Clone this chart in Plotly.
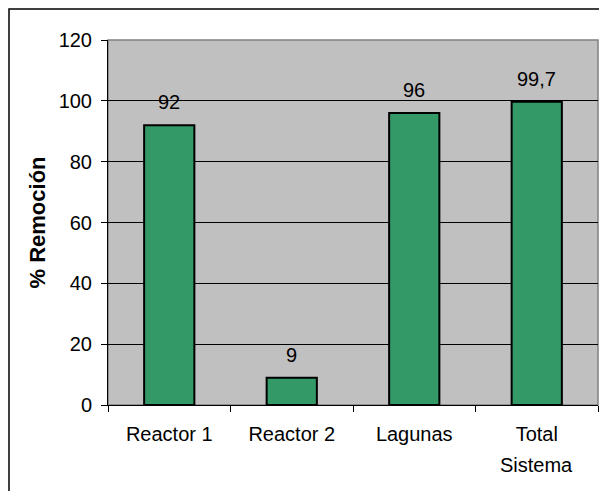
import plotly.graph_objects as go

categorias = ["Reactor 1", "Reactor 2", "Lagunas", "Total"]
remocion = [92, 9, 96, 99.7]
etiquetas = ["92", "9", "96", "99,7"]
y_ticks = [0, 20, 40, 60, 80, 100, 120]

# the page adds an 8px body margin, so the figure is sized to fit inside it
W, H = 599, 483
L, R, T, B = 100, 9, 32, 86
pw, ph = W - L - R, H - T - B

fig = go.Figure()
fig.add_trace(go.Bar(
    x=categorias,
    y=remocion,
    marker=dict(color="#339966", line=dict(color="black", width=2)),
    width=0.41,
))

# value labels above the bars
labels = [
    dict(text=t, x=c, y=v, xref="x", yref="y", showarrow=False,
         yanchor="bottom", yshift=10, font=dict(size=20))
    for c, v, t in zip(categorias, remocion, etiquetas)
]

fig.update_layout(
    width=W, height=H,
    margin=dict(l=L, r=R, t=T, b=B, autoexpand=False),
    paper_bgcolor="white",
    plot_bgcolor="#c0c0c0",
    font=dict(family="Liberation Sans, Arial", size=20, color="black"),
    showlegend=False,
    shapes=[
        # outer chart border (right and bottom edges fall outside the picture)
        dict(type="rect", xref="paper", yref="paper",
             x0=(1 - L) / pw, x1=(W + 10 - L) / pw,
             y0=(H - B - H - 10) / ph, y1=(H - B - 1) / ph,
             line=dict(color="black", width=1.5), layer="below"),
        # plot area border
        dict(type="rect", xref="paper", yref="paper",
             x0=0, x1=1, y0=0, y1=1,
             line=dict(color="#808080", width=1.5), layer="below"),
    ],
    annotations=labels + [
        dict(text="<b>% Remoción</b>", xref="paper", yref="paper",
             x=(29 - L) / pw, y=0.5, textangle=-90, showarrow=False,
             xanchor="center", yanchor="middle", font=dict(size=22)),
        dict(text="Sistema", xref="x", yref="paper",
             x="Total", y=-(60 / ph), showarrow=False,
             xanchor="center", yanchor="middle", font=dict(size=20)),
    ],
)

fig.update_yaxes(
    range=[0, 120],
    tickvals=y_ticks,
    ticks="outside", ticklen=6, tickcolor="black",
    ticklabelstandoff=5,
    showgrid=True, gridcolor="black", gridwidth=1,
    showline=True, linecolor="black", linewidth=1,
    zeroline=False, automargin=False,
)
fig.update_xaxes(
    ticks="outside", ticklen=6, tickcolor="black",
    tickson="boundaries",
    ticklabelstandoff=11,
    showline=True, linecolor="black", linewidth=1,
    showgrid=False, automargin=False,
)

fig.write_html("out.html")
